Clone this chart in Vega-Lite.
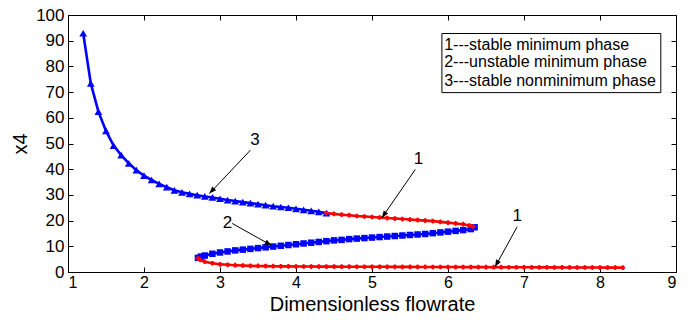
{
  "$schema": "https://vega.github.io/schema/vega-lite/v6.json",
  "width": 608,
  "height": 257,
  "autosize": "none",
  "padding": {"left": 68, "top": 15, "right": 15, "bottom": 48},
  "background": "white",
  "config": {
    "font": "Liberation Sans",
    "view": {"stroke": "black", "strokeWidth": 1},
    "axis": {"grid": false, "domainColor": "black", "tickColor": "black", "labelColor": "black", "titleColor": "black", "labelFont": "Liberation Sans", "titleFont": "Liberation Sans", "titleFontWeight": "normal"}
  },
  "datasets": {
    "curve": [
      {"branch":"3","seg":"3","k":1,"flow":1.2,"x4":92.9},
      {"branch":"3","seg":"3","k":2,"flow":1.3,"x4":73.4},
      {"branch":"3","seg":"3","k":3,"flow":1.4,"x4":62.4},
      {"branch":"3","seg":"3","k":4,"flow":1.5,"x4":54.9},
      {"branch":"3","seg":"3","k":5,"flow":1.6,"x4":49.2},
      {"branch":"3","seg":"3","k":6,"flow":1.7,"x4":45.5},
      {"branch":"3","seg":"3","k":7,"flow":1.8,"x4":42.3},
      {"branch":"3","seg":"3","k":8,"flow":1.9,"x4":39.6},
      {"branch":"3","seg":"3","k":9,"flow":2.0,"x4":37.5},
      {"branch":"3","seg":"3","k":10,"flow":2.1,"x4":35.8},
      {"branch":"3","seg":"3","k":11,"flow":2.2,"x4":34.3},
      {"branch":"3","seg":"3","k":12,"flow":2.3,"x4":33.0},
      {"branch":"3","seg":"3","k":13,"flow":2.4,"x4":31.8},
      {"branch":"3","seg":"3","k":14,"flow":2.5,"x4":31.0},
      {"branch":"3","seg":"3","k":15,"flow":2.6,"x4":30.4},
      {"branch":"3","seg":"3","k":16,"flow":2.7,"x4":29.9},
      {"branch":"3","seg":"3","k":17,"flow":2.8,"x4":29.4},
      {"branch":"3","seg":"3","k":18,"flow":2.9,"x4":29.0},
      {"branch":"3","seg":"3","k":19,"flow":3.0,"x4":28.5},
      {"branch":"3","seg":"3","k":20,"flow":3.1,"x4":28.0},
      {"branch":"3","seg":"3","k":21,"flow":3.2,"x4":27.6},
      {"branch":"3","seg":"3","k":22,"flow":3.3,"x4":27.2},
      {"branch":"3","seg":"3","k":23,"flow":3.4,"x4":26.8},
      {"branch":"3","seg":"3","k":24,"flow":3.5,"x4":26.4},
      {"branch":"3","seg":"3","k":25,"flow":3.6,"x4":26.0},
      {"branch":"3","seg":"3","k":26,"flow":3.7,"x4":25.6},
      {"branch":"3","seg":"3","k":27,"flow":3.8,"x4":25.3},
      {"branch":"3","seg":"3","k":28,"flow":3.9,"x4":25.0},
      {"branch":"3","seg":"3","k":29,"flow":4.0,"x4":24.6},
      {"branch":"3","seg":"3","k":30,"flow":4.1,"x4":24.2},
      {"branch":"3","seg":"3","k":31,"flow":4.2,"x4":23.8},
      {"branch":"3","seg":"3","k":32,"flow":4.3,"x4":23.4},
      {"branch":"3","seg":"3","k":33,"flow":4.4,"x4":22.9},
      {"branch":"1","seg":"1a","k":34,"flow":4.4,"x4":22.9},
      {"branch":"1","seg":"1a","k":35,"flow":4.5,"x4":22.6},
      {"branch":"1","seg":"1a","k":36,"flow":4.6,"x4":22.3},
      {"branch":"1","seg":"1a","k":37,"flow":4.7,"x4":22.1},
      {"branch":"1","seg":"1a","k":38,"flow":4.8,"x4":21.8},
      {"branch":"1","seg":"1a","k":39,"flow":4.9,"x4":21.6},
      {"branch":"1","seg":"1a","k":40,"flow":5.0,"x4":21.4},
      {"branch":"1","seg":"1a","k":41,"flow":5.1,"x4":21.2},
      {"branch":"1","seg":"1a","k":42,"flow":5.2,"x4":21.0},
      {"branch":"1","seg":"1a","k":43,"flow":5.3,"x4":20.8},
      {"branch":"1","seg":"1a","k":44,"flow":5.4,"x4":20.6},
      {"branch":"1","seg":"1a","k":45,"flow":5.5,"x4":20.4},
      {"branch":"1","seg":"1a","k":46,"flow":5.6,"x4":20.2},
      {"branch":"1","seg":"1a","k":47,"flow":5.7,"x4":20.0},
      {"branch":"1","seg":"1a","k":48,"flow":5.8,"x4":19.8},
      {"branch":"1","seg":"1a","k":49,"flow":5.9,"x4":19.5},
      {"branch":"1","seg":"1a","k":50,"flow":6.0,"x4":19.2},
      {"branch":"1","seg":"1a","k":51,"flow":6.1,"x4":18.9},
      {"branch":"1","seg":"1a","k":52,"flow":6.2,"x4":18.6},
      {"branch":"1","seg":"1a","k":53,"flow":6.28,"x4":18.1},
      {"branch":"1","seg":"1a","k":54,"flow":6.33,"x4":17.7},
      {"branch":"2","seg":"2","k":55,"flow":6.35,"x4":17.4},
      {"branch":"2","seg":"2","k":56,"flow":6.3,"x4":16.7},
      {"branch":"2","seg":"2","k":57,"flow":6.2,"x4":16.3},
      {"branch":"2","seg":"2","k":58,"flow":6.1,"x4":16.0},
      {"branch":"2","seg":"2","k":59,"flow":6.0,"x4":15.7},
      {"branch":"2","seg":"2","k":60,"flow":5.9,"x4":15.4},
      {"branch":"2","seg":"2","k":61,"flow":5.8,"x4":15.1},
      {"branch":"2","seg":"2","k":62,"flow":5.7,"x4":14.8},
      {"branch":"2","seg":"2","k":63,"flow":5.6,"x4":14.6},
      {"branch":"2","seg":"2","k":64,"flow":5.5,"x4":14.4},
      {"branch":"2","seg":"2","k":65,"flow":5.4,"x4":14.2},
      {"branch":"2","seg":"2","k":66,"flow":5.3,"x4":14.0},
      {"branch":"2","seg":"2","k":67,"flow":5.2,"x4":13.8},
      {"branch":"2","seg":"2","k":68,"flow":5.1,"x4":13.6},
      {"branch":"2","seg":"2","k":69,"flow":5.0,"x4":13.4},
      {"branch":"2","seg":"2","k":70,"flow":4.9,"x4":13.2},
      {"branch":"2","seg":"2","k":71,"flow":4.8,"x4":13.0},
      {"branch":"2","seg":"2","k":72,"flow":4.7,"x4":12.8},
      {"branch":"2","seg":"2","k":73,"flow":4.6,"x4":12.5},
      {"branch":"2","seg":"2","k":74,"flow":4.5,"x4":12.3},
      {"branch":"2","seg":"2","k":75,"flow":4.4,"x4":12.0},
      {"branch":"2","seg":"2","k":76,"flow":4.3,"x4":11.7},
      {"branch":"2","seg":"2","k":77,"flow":4.2,"x4":11.4},
      {"branch":"2","seg":"2","k":78,"flow":4.1,"x4":11.1},
      {"branch":"2","seg":"2","k":79,"flow":4.0,"x4":10.8},
      {"branch":"2","seg":"2","k":80,"flow":3.9,"x4":10.5},
      {"branch":"2","seg":"2","k":81,"flow":3.8,"x4":10.2},
      {"branch":"2","seg":"2","k":82,"flow":3.7,"x4":9.9},
      {"branch":"2","seg":"2","k":83,"flow":3.6,"x4":9.6},
      {"branch":"2","seg":"2","k":84,"flow":3.5,"x4":9.3},
      {"branch":"2","seg":"2","k":85,"flow":3.4,"x4":9.0},
      {"branch":"2","seg":"2","k":86,"flow":3.3,"x4":8.7},
      {"branch":"2","seg":"2","k":87,"flow":3.2,"x4":8.4},
      {"branch":"2","seg":"2","k":88,"flow":3.1,"x4":8.0},
      {"branch":"2","seg":"2","k":89,"flow":3.0,"x4":7.6},
      {"branch":"2","seg":"2","k":90,"flow":2.9,"x4":7.1},
      {"branch":"2","seg":"2","k":91,"flow":2.8,"x4":6.4},
      {"branch":"2","seg":"2","k":92,"flow":2.75,"x4":6.0},
      {"branch":"2","seg":"2","k":93,"flow":2.71,"x4":5.5},
      {"branch":"1","seg":"1b","k":94,"flow":2.71,"x4":5.3},
      {"branch":"1","seg":"1b","k":95,"flow":2.74,"x4":4.7},
      {"branch":"1","seg":"1b","k":96,"flow":2.8,"x4":4.0},
      {"branch":"1","seg":"1b","k":97,"flow":2.9,"x4":3.4},
      {"branch":"1","seg":"1b","k":98,"flow":3.0,"x4":3.0},
      {"branch":"1","seg":"1b","k":99,"flow":3.1,"x4":2.8},
      {"branch":"1","seg":"1b","k":100,"flow":3.2,"x4":2.65},
      {"branch":"1","seg":"1b","k":101,"flow":3.3,"x4":2.5},
      {"branch":"1","seg":"1b","k":102,"flow":3.4,"x4":2.4},
      {"branch":"1","seg":"1b","k":103,"flow":3.5,"x4":2.35},
      {"branch":"1","seg":"1b","k":104,"flow":3.6,"x4":2.3},
      {"branch":"1","seg":"1b","k":105,"flow":3.7,"x4":2.25},
      {"branch":"1","seg":"1b","k":106,"flow":3.8,"x4":2.2},
      {"branch":"1","seg":"1b","k":107,"flow":3.9,"x4":2.2},
      {"branch":"1","seg":"1b","k":108,"flow":4.0,"x4":2.15},
      {"branch":"1","seg":"1b","k":109,"flow":4.1,"x4":2.13},
      {"branch":"1","seg":"1b","k":110,"flow":4.2,"x4":2.12},
      {"branch":"1","seg":"1b","k":111,"flow":4.3,"x4":2.1},
      {"branch":"1","seg":"1b","k":112,"flow":4.4,"x4":2.09},
      {"branch":"1","seg":"1b","k":113,"flow":4.5,"x4":2.08},
      {"branch":"1","seg":"1b","k":114,"flow":4.6,"x4":2.07},
      {"branch":"1","seg":"1b","k":115,"flow":4.7,"x4":2.06},
      {"branch":"1","seg":"1b","k":116,"flow":4.8,"x4":2.05},
      {"branch":"1","seg":"1b","k":117,"flow":4.9,"x4":2.04},
      {"branch":"1","seg":"1b","k":118,"flow":5.0,"x4":2.03},
      {"branch":"1","seg":"1b","k":119,"flow":5.1,"x4":2.02},
      {"branch":"1","seg":"1b","k":120,"flow":5.2,"x4":2.01},
      {"branch":"1","seg":"1b","k":121,"flow":5.3,"x4":2.0},
      {"branch":"1","seg":"1b","k":122,"flow":5.4,"x4":1.99},
      {"branch":"1","seg":"1b","k":123,"flow":5.5,"x4":1.98},
      {"branch":"1","seg":"1b","k":124,"flow":5.6,"x4":1.97},
      {"branch":"1","seg":"1b","k":125,"flow":5.7,"x4":1.96},
      {"branch":"1","seg":"1b","k":126,"flow":5.8,"x4":1.95},
      {"branch":"1","seg":"1b","k":127,"flow":5.9,"x4":1.94},
      {"branch":"1","seg":"1b","k":128,"flow":6.0,"x4":1.93},
      {"branch":"1","seg":"1b","k":129,"flow":6.1,"x4":1.92},
      {"branch":"1","seg":"1b","k":130,"flow":6.2,"x4":1.91},
      {"branch":"1","seg":"1b","k":131,"flow":6.3,"x4":1.9},
      {"branch":"1","seg":"1b","k":132,"flow":6.4,"x4":1.89},
      {"branch":"1","seg":"1b","k":133,"flow":6.5,"x4":1.88},
      {"branch":"1","seg":"1b","k":134,"flow":6.6,"x4":1.87},
      {"branch":"1","seg":"1b","k":135,"flow":6.7,"x4":1.86},
      {"branch":"1","seg":"1b","k":136,"flow":6.8,"x4":1.85},
      {"branch":"1","seg":"1b","k":137,"flow":6.9,"x4":1.84},
      {"branch":"1","seg":"1b","k":138,"flow":7.0,"x4":1.83},
      {"branch":"1","seg":"1b","k":139,"flow":7.1,"x4":1.82},
      {"branch":"1","seg":"1b","k":140,"flow":7.2,"x4":1.81},
      {"branch":"1","seg":"1b","k":141,"flow":7.3,"x4":1.8},
      {"branch":"1","seg":"1b","k":142,"flow":7.4,"x4":1.79},
      {"branch":"1","seg":"1b","k":143,"flow":7.5,"x4":1.78},
      {"branch":"1","seg":"1b","k":144,"flow":7.6,"x4":1.77},
      {"branch":"1","seg":"1b","k":145,"flow":7.7,"x4":1.76},
      {"branch":"1","seg":"1b","k":146,"flow":7.8,"x4":1.75},
      {"branch":"1","seg":"1b","k":147,"flow":7.9,"x4":1.74},
      {"branch":"1","seg":"1b","k":148,"flow":8.0,"x4":1.73},
      {"branch":"1","seg":"1b","k":149,"flow":8.1,"x4":1.72},
      {"branch":"1","seg":"1b","k":150,"flow":8.2,"x4":1.71},
      {"branch":"1","seg":"1b","k":151,"flow":8.3,"x4":1.7}
    ],
    "arrows": [
      {"label":"3","lx":3.46,"ly":51.3,"x0":3.40,"y0":47.4,"x1":2.86,"y1":30.5,"heading":223},
      {"label":"1","lx":5.61,"ly":43.8,"x0":5.57,"y0":39.9,"x1":5.13,"y1":21.1,"heading":215},
      {"label":"2","lx":3.10,"ly":19.1,"x0":3.16,"y0":18.9,"x1":3.68,"y1":10.3,"heading":119},
      {"label":"1","lx":6.91,"ly":21.7,"x0":6.91,"y0":17.6,"x1":6.62,"y1":2.0,"heading":208}
    ],
    "legendbox": [{"xa":5.92,"xb":8.80,"ya":69.8,"yb":92.8}],
    "legendtext": [
      {"t":"1---stable minimum phase","lx":5.95,"ly":88.5},
      {"t":"2---unstable minimum phase","lx":5.95,"ly":81.6},
      {"t":"3---stable nonminimum phase","lx":5.95,"ly":74.5}
    ],
    "frame": [{"flow":1,"x4":0},{"flow":9,"x4":100}]
  },
  "resolve": {"axis": {"x": "independent", "y": "independent"}},
  "layer": [
    {
      "data": {"name": "curve"},
      "mark": {"type": "line", "strokeWidth": 2.6},
      "encoding": {
        "x": {"field": "flow", "type": "quantitative", "scale": {"domain": [1, 9], "nice": false},
              "axis": {"values": [1,2,3,4,5,6,7,8,9], "tickSize": -5, "labelFontSize": 16, "titleFontSize": 20, "labelPadding": 7, "titlePadding": 4, "title": "Dimensionless flowrate"}},
        "y": {"field": "x4", "type": "quantitative", "scale": {"domain": [0, 100], "nice": false},
              "axis": {"values": [0,10,20,30,40,50,60,70,80,90,100], "tickSize": -5, "labelFontSize": 17, "titleFontSize": 20, "labelPadding": 9, "titlePadding": 5, "title": "x4"}},
        "detail": {"field": "seg"},
        "order": {"field": "k", "type": "quantitative"},
        "color": {"field": "branch", "type": "nominal", "scale": {"domain": ["1","2","3"], "range": ["#ff0000","#0000ff","#0000ff"]}, "legend": null}
      }
    },
    {
      "data": {"name": "frame"},
      "mark": {"type": "point", "opacity": 0},
      "encoding": {
        "x": {"field": "flow", "type": "quantitative", "axis": {"orient": "top", "values": [1,2,3,4,5,6,7,8,9], "labels": false, "title": null, "tickSize": -5, "domain": false}},
        "y": {"field": "x4", "type": "quantitative", "axis": {"orient": "right", "values": [0,10,20,30,40,50,60,70,80,90,100], "labels": false, "title": null, "tickSize": -5, "domain": false}}
      }
    },
    {
      "data": {"name": "curve"},
      "transform": [{"filter": "datum.branch == '3'"}],
      "mark": {"type": "point", "shape": "triangle-up", "filled": true, "size": 60, "color": "#0000ff", "opacity": 1},
      "encoding": {
        "x": {"field": "flow", "type": "quantitative", "axis": null},
        "y": {"field": "x4", "type": "quantitative", "axis": null}
      }
    },
    {
      "data": {"name": "curve"},
      "transform": [{"filter": "datum.branch == '2'"}],
      "mark": {"type": "point", "shape": "square", "filled": true, "size": 42, "color": "#0000ff", "opacity": 1},
      "encoding": {
        "x": {"field": "flow", "type": "quantitative", "axis": null},
        "y": {"field": "x4", "type": "quantitative", "axis": null}
      }
    },
    {
      "data": {"name": "curve"},
      "transform": [{"filter": "datum.branch == '1'"}],
      "mark": {"type": "point", "shape": "circle", "filled": true, "size": 16, "color": "#ff0000", "opacity": 1},
      "encoding": {
        "x": {"field": "flow", "type": "quantitative", "axis": null},
        "y": {"field": "x4", "type": "quantitative", "axis": null}
      }
    },
    {
      "data": {"name": "curve"},
      "transform": [{"filter": "datum.branch == '1'"}],
      "mark": {"type": "point", "shape": "cross", "filled": true, "size": 22, "color": "#ff0000", "opacity": 1},
      "encoding": {
        "x": {"field": "flow", "type": "quantitative", "axis": null},
        "y": {"field": "x4", "type": "quantitative", "axis": null}
      }
    },
    {
      "data": {"name": "arrows"},
      "mark": {"type": "rule", "color": "black", "strokeWidth": 1},
      "encoding": {
        "x": {"field": "x0", "type": "quantitative", "axis": null},
        "y": {"field": "y0", "type": "quantitative", "axis": null},
        "x2": {"field": "x1"},
        "y2": {"field": "y1"}
      }
    },
    {
      "data": {"name": "arrows"},
      "mark": {"type": "point", "shape": "M0,0L-0.38,1L0.38,1Z", "filled": true, "size": 200, "color": "black", "opacity": 1},
      "encoding": {
        "x": {"field": "x1", "type": "quantitative", "axis": null},
        "y": {"field": "y1", "type": "quantitative", "axis": null},
        "angle": {"field": "heading", "type": "quantitative", "scale": null}
      }
    },
    {
      "data": {"name": "arrows"},
      "mark": {"type": "text", "fontSize": 17, "color": "black", "baseline": "middle", "align": "center"},
      "encoding": {
        "x": {"field": "lx", "type": "quantitative", "axis": null},
        "y": {"field": "ly", "type": "quantitative", "axis": null},
        "text": {"field": "label"}
      }
    },
    {
      "data": {"name": "legendbox"},
      "mark": {"type": "rect", "fill": "white", "stroke": "black", "strokeWidth": 1},
      "encoding": {
        "x": {"field": "xa", "type": "quantitative", "axis": null},
        "x2": {"field": "xb"},
        "y": {"field": "ya", "type": "quantitative", "axis": null},
        "y2": {"field": "yb"}
      }
    },
    {
      "data": {"name": "legendtext"},
      "mark": {"type": "text", "fontSize": 16, "color": "black", "baseline": "middle", "align": "left"},
      "encoding": {
        "x": {"field": "lx", "type": "quantitative", "axis": null},
        "y": {"field": "ly", "type": "quantitative", "axis": null},
        "text": {"field": "t"}
      }
    }
  ]
}
